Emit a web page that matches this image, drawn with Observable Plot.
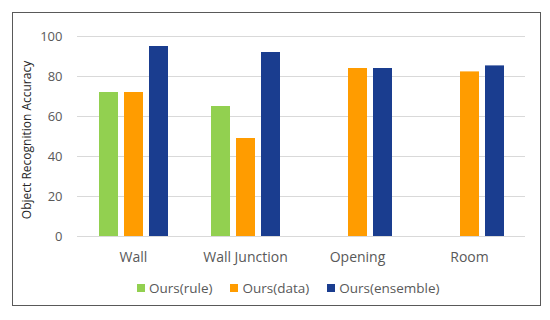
<!DOCTYPE html>
<html>
<head>
<meta charset="utf-8">
<script src="https://cdn.jsdelivr.net/npm/d3@7"></script>
<script src="https://cdn.jsdelivr.net/npm/@observablehq/plot@0.6"></script>
<style>
  body { margin: 0; background: #fff; font-family: "Open Sans", "Noto Sans", sans-serif; }
  #wrap { position: relative; width: 550px; height: 320px; overflow: hidden; }
  #frame { position: absolute; left: 12px; top: 12px; width: 527px; height: 292px; border: 1.5px solid #595959; }
  #chart { position: absolute; left: 0; top: 0; }
  #legend { position: absolute; left: 137px; top: 279px; display: flex; align-items: center; font-size: 13.5px; color: #595959; white-space: nowrap; }
  #legend .item { display: flex; align-items: center; margin-right: 18px; }
  #legend .sw { width: 8px; height: 8px; margin-right: 4px; }
</style>
</head>
<body>
<div id="wrap">
  <div id="frame"></div>
  <div id="chart"></div>
  <div id="legend"></div>
</div>
<script>
const categories = ["Wall", "Wall Junction", "Opening", "Room"];
const series = ["Ours(rule)", "Ours(data)", "Ours(ensemble)"];
const colors = ["#92D050", "#FF9C00", "#1A3D8F"];
const ruleValues = [72, 65, null, null];
const dataValues = [72, 49, 84, 82.3];
const ensembleValues = [95, 92, 84, 85.3];
const yTicks = [0, 20, 40, 60, 80, 100];

const allValues = [ruleValues, dataValues, ensembleValues];
const rows = [];
series.forEach((s, i) => {
  categories.forEach((c, j) => {
    const v = allValues[i][j];
    if (v != null) rows.push({category: c, series: s, value: v});
  });
});

const plot = Plot.plot({
  width: 550,
  height: 270,
  marginLeft: 77,
  marginRight: 25,
  marginTop: 36,
  marginBottom: 34,
  style: {fontFamily: "'Open Sans', 'Noto Sans', sans-serif", fontSize: "13px", color: "#595959", background: "transparent"},
  fx: {domain: categories, padding: 0, label: null},
  x: {domain: series, paddingInner: 0.24, paddingOuter: 0.86, axis: null},
  y: {domain: [0, 100], label: null},
  color: {domain: series, range: colors},
  marks: [
    Plot.gridY(yTicks, {stroke: "#d9d9d9", strokeOpacity: 1, strokeWidth: 1}),
    Plot.axisY({ticks: yTicks, tickSize: 0, tickPadding: 15, label: null, fontSize: 13, fill: "#595959"}),
    Plot.axisFx({anchor: "bottom", tickSize: 0, tickPadding: 16, label: null, fontSize: 14, fill: "#595959"}),
    Plot.barY(rows, {fx: "category", x: "series", y: "value", fill: "series"})
  ]
});
document.getElementById("chart").appendChild(plot);

// y axis title as rotated svg text
const svg = d3.select(plot);
svg.append("text")
  .attr("transform", "translate(28,140) rotate(-90)")
  .attr("text-anchor", "middle")
  .attr("dominant-baseline", "middle")
  .attr("font-size", 12)
  .attr("fill", "#262626")
  .text("Object Recognition Accuracy");

const legend = document.getElementById("legend");
series.forEach((s, i) => {
  const item = document.createElement("div");
  item.className = "item";
  const sw = document.createElement("span");
  sw.className = "sw";
  sw.style.background = colors[i];
  const t = document.createElement("span");
  t.textContent = s;
  item.appendChild(sw);
  item.appendChild(t);
  legend.appendChild(item);
});
</script>
</body>
</html>
